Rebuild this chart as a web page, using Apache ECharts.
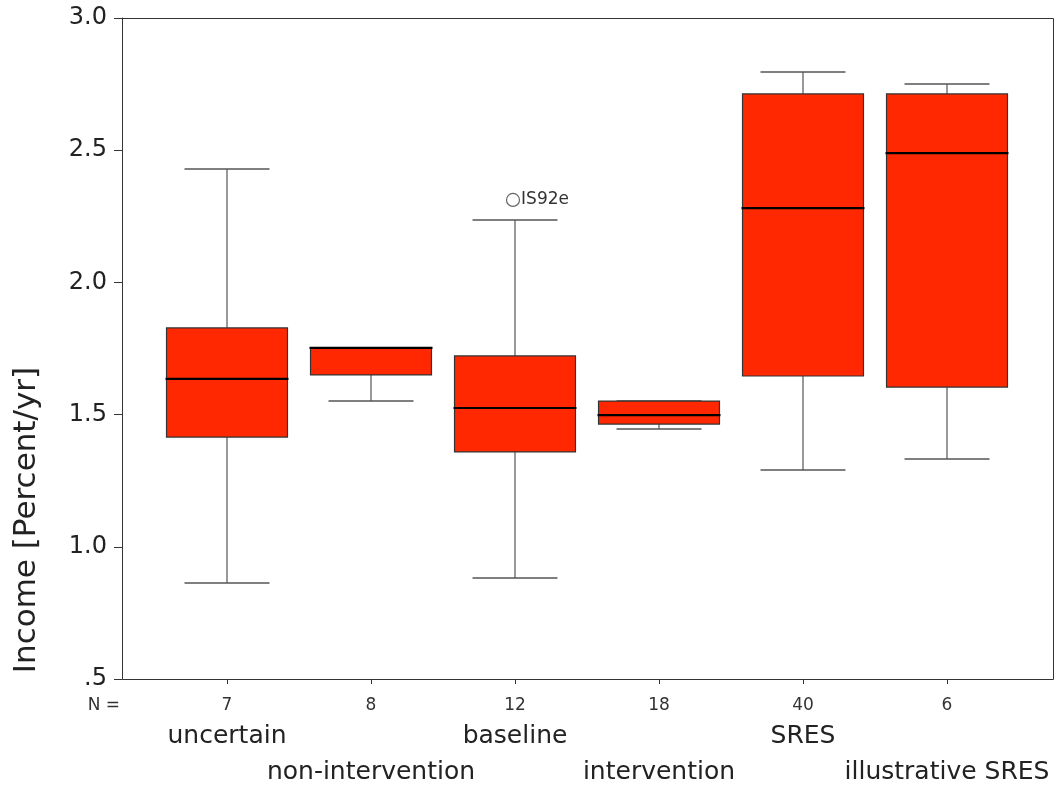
<!DOCTYPE html>
<html>
<head>
<meta charset="utf-8">
<script src="https://cdn.jsdelivr.net/npm/echarts@6/dist/echarts.min.js"></script>
<style>html,body{margin:0;padding:0;background:#fff}#c{width:1056px;height:787px}</style>
</head>
<body>
<div id="c"></div>
<script>
const categories = ['uncertain','non-intervention','baseline','intervention','SRES','illustrative SRES'];
const counts = [7, 8, 12, 18, 40, 6];
const mins    = [0.863, 1.551, 0.882, 1.446, 1.290, 1.332];
const q1s     = [1.415, 1.650, 1.359, 1.464, 1.646, 1.604];
const medians = [1.635, 1.752, 1.525, 1.498, 2.281, 2.489];
const q3s     = [1.828, 1.752, 1.722, 1.551, 2.713, 2.713];
const maxs    = [2.429, 1.752, 2.236, 1.551, 2.796, 2.750];
const outliers = [[2, 2.312, 'IS92e']];
const yTicks = [0.5, 1.0, 1.5, 2.0, 2.5, 3.0];

const FONT = 'DejaVu Sans';
const boxData = categories.map((c, i) => [i, mins[i], q1s[i], medians[i], q3s[i], maxs[i]]);

const chart = echarts.init(document.getElementById('c'), null, {renderer: 'canvas'});
chart.setOption({
  animation: false,
  backgroundColor: '#fff',
  grid: {left: 155, right: 37, top: 18, bottom: 108},
  graphic: [
    {type: 'rect', silent: true, z: 0, shape: {x: 122.5, y: 18.5, width: 931, height: 661},
     style: {fill: 'none', stroke: '#333', lineWidth: 1}},
    {type: 'text', x: 120, y: 706, style: {text: 'N =', font: '17px "DejaVu Sans"', fill: '#333', align: 'right', verticalAlign: 'middle'}},
    {type: 'text', x: 27, y: 520, rotation: Math.PI / 2,
     style: {text: 'Income [Percent/yr]', font: '31px "DejaVu Sans"', fill: '#222', align: 'center', verticalAlign: 'middle'}}
  ],
  xAxis: {
    type: 'category',
    data: categories,
    axisLine: {show: false},
    axisTick: {show: true, alignWithLabel: true, length: 5, lineStyle: {color: '#333'}},
    splitLine: {show: false},
    axisLabel: {
      interval: 0,
      margin: 15,
      formatter: function (v, i) {
        return i % 2 === 0 ? '{n|' + counts[i] + '}\n{c|' + v + '}' : '{n|' + counts[i] + '}\n{d|' + v + '}';
      },
      rich: {
        n: {fontFamily: FONT, fontSize: 17, lineHeight: 24, color: '#333'},
        c: {fontFamily: FONT, fontSize: 25, lineHeight: 36, color: '#222'},
        d: {fontFamily: FONT, fontSize: 25, lineHeight: 36, color: '#222', padding: [72, 0, 0, 0]}
      }
    }
  },
  yAxis: {
    type: 'value', min: 0.5, max: 3.0, interval: 0.5, offset: 33,
    axisLine: {show: true, lineStyle: {color: '#333'}},
    axisTick: {show: true, length: 8, lineStyle: {color: '#333'}},
    splitLine: {show: false},
    axisLabel: {
      fontFamily: FONT, fontSize: 24, color: '#222', margin: 15,
      formatter: function (v) { return v === 0.5 ? '.5' : v.toFixed(1); }
    }
  },
  series: [
    {
      type: 'custom',
      data: boxData,
      encode: {x: 0, y: [1, 2, 3, 4, 5]},
      renderItem: function (params, api) {
        const i = api.value(0);
        const pMin = api.coord([i, api.value(1)]);
        const pQ1 = api.coord([i, api.value(2)]);
        const pMed = api.coord([i, api.value(3)]);
        const pQ3 = api.coord([i, api.value(4)]);
        const pMax = api.coord([i, api.value(5)]);
        const band = api.size([1, 0])[0];
        const bw = band * 0.84, cw = band * 0.59;
        const x = pMed[0];
        const ls = {stroke: '#333', lineWidth: 1};
        return {
          type: 'group',
          children: [
            {type: 'line', shape: {x1: x, y1: pMin[1], x2: x, y2: pQ1[1]}, style: ls},
            {type: 'line', shape: {x1: x, y1: pQ3[1], x2: x, y2: pMax[1]}, style: ls},
            {type: 'line', shape: {x1: x - cw / 2, y1: pMin[1], x2: x + cw / 2, y2: pMin[1]}, style: {stroke: '#555', lineWidth: 1.5}},
            {type: 'line', shape: {x1: x - cw / 2, y1: pMax[1], x2: x + cw / 2, y2: pMax[1]}, style: {stroke: '#555', lineWidth: 1.5}},
            {type: 'rect', shape: {x: x - bw / 2, y: pQ3[1], width: bw, height: pQ1[1] - pQ3[1]},
             style: {fill: '#ff2800', stroke: '#333', lineWidth: 1.2}},
            {type: 'line', shape: {x1: x - bw / 2 - 1, y1: pMed[1], x2: x + bw / 2 + 1, y2: pMed[1]}, style: {stroke: '#000', lineWidth: 2.2}}
          ]
        };
      }
    },
    {
      type: 'scatter',
      data: outliers.map(o => ({value: [o[0], o[1]], name: o[2]})),
      symbol: 'circle',
      symbolSize: 13,
      symbolOffset: [-2, 0],
      z: 5,
      itemStyle: {color: 'rgba(255,255,255,0)', borderColor: '#666', borderWidth: 1.2, opacity: 1},
      label: {show: true, position: 'right', distance: 1, formatter: '{b}', fontFamily: FONT, fontSize: 17, color: '#333'}
    }
  ]
});
</script>
</body>
</html>
